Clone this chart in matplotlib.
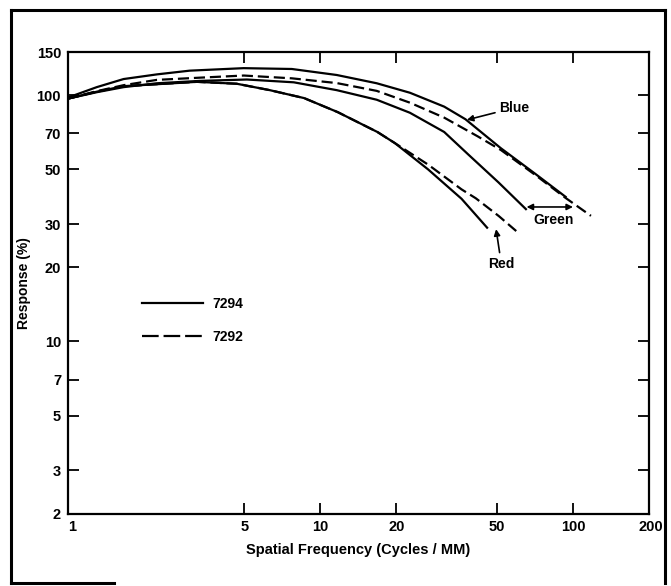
import matplotlib
matplotlib.use("Agg")
import matplotlib.pyplot as plt
from matplotlib.lines import Line2D
from matplotlib.ticker import NullLocator
from matplotlib.transforms import ScaledTranslation

plt.rcParams["font.family"] = ["Liberation Sans", "DejaVu Sans"]
plt.rcParams["font.weight"] = "bold"

# spatial frequency (cycles/mm) and response (%)
blue_7294_freq = [1, 1.3, 1.66, 2.25, 3.03, 4.96, 7.7, 11.6, 16.7, 22.6, 30.9, 37.5, 51.8, 70.9, 93.5]
blue_7294_resp = [98, 108, 116.5, 121.7, 126, 129, 128, 121, 112, 102.5, 90, 80, 61, 48, 38.7]

upper_7292_freq = [1, 1.3, 1.66, 2.25, 3.32, 4.97, 7.7, 11.6, 16.7, 22.6, 30.9, 41.9, 51.8, 70.9, 93.5, 117.8]
upper_7292_resp = [97, 104, 110, 115.6, 118, 120.4, 117.3, 112.2, 104.3, 93.4, 81.2, 68.2, 60, 47.5, 38.3, 32.4]

green_7294_freq = [1, 1.3, 1.66, 2.25, 3.32, 5.11, 7.84, 11.6, 16.7, 22.6, 30.9, 38.5, 50.7, 65.1]
green_7294_resp = [97, 103, 108, 112, 114.5, 116, 113, 105, 96, 85, 71, 57.5, 44.3, 34.5]

red_7294_freq = [1, 1.3, 1.66, 2.25, 3.24, 4.66, 6.3, 8.61, 11.7, 16.8, 19.7, 26.7, 36.2, 45.7]
red_7294_resp = [97, 103.5, 109, 111, 113.5, 111.5, 105, 97.5, 85.5, 71, 64, 50, 38, 29]

red_7292_freq = [1, 1.3, 1.66, 2.25, 3.24, 4.66, 6.3, 8.61, 11.7, 16.8, 19.7, 26.7, 36.2, 41.2, 50.9, 59.6]
red_7292_resp = [97, 103.5, 109, 111, 113.5, 111.5, 105, 97.5, 85.5, 71, 64, 52.3, 41.5, 38.2, 32.3, 28.1]

x_ticks = [1, 5, 10, 20, 50, 100, 200]
y_ticks = [2, 3, 5, 7, 10, 20, 30, 50, 70, 100, 150]

LW = 1.6
DASH = (5, 2.2)

fig = plt.figure(figsize=(6.71, 5.86), dpi=100)
ax = fig.add_axes([0.1013, 0.1237, 0.8659, 0.7875])

ax.plot(blue_7294_freq, blue_7294_resp, color="black", lw=LW)
ax.plot(green_7294_freq, green_7294_resp, color="black", lw=LW)
ax.plot(red_7294_freq, red_7294_resp, color="black", lw=LW)
ax.plot(upper_7292_freq, upper_7292_resp, color="black", lw=LW, dashes=DASH)
ax.plot(red_7292_freq, red_7292_resp, color="black", lw=LW, dashes=DASH)

ax.set_xscale("log")
ax.set_yscale("log")
ax.set_xlim(1, 200)
ax.set_ylim(2, 150)
ax.set_xticks(x_ticks)
ax.set_xticklabels([str(t) for t in x_ticks])
ax.set_yticks(y_ticks)
ax.set_yticklabels([str(t) for t in y_ticks])
ax.xaxis.set_minor_locator(NullLocator())
ax.yaxis.set_minor_locator(NullLocator())
ax.tick_params(direction="in", top=True, right=True, length=8, width=1.3,
               labelsize=10.5, pad=5)
for s in ax.spines.values():
    s.set_linewidth(1.6)

# end labels sit just inside the corners on the scan
xlabels = ax.get_xticklabels()
xlabels[0].set_transform(xlabels[0].get_transform() + ScaledTranslation(3 / 72, 0, fig.dpi_scale_trans))
xlabels[-1].set_transform(xlabels[-1].get_transform() + ScaledTranslation(1.5 / 72, 0, fig.dpi_scale_trans))

ax.set_xlabel("Spatial Frequency (Cycles / MM)", fontsize=10.5, fontweight="bold", labelpad=6)
ax.set_ylabel("Response (%)", fontsize=10, fontweight="bold", labelpad=4)

arrow = dict(arrowstyle="-|>", color="black", lw=1.2, mutation_scale=9, shrinkA=1, shrinkB=0)
ax.annotate("Blue", xy=(38, 79.5), xytext=(51, 89), ha="left", va="center",
            fontsize=10, fontweight="bold", arrowprops=arrow)
ax.annotate("Red", xy=(49.6, 28.6), xytext=(52, 20.7), ha="center", va="center",
            fontsize=10, fontweight="bold", arrowprops=arrow)
ax.annotate("", xy=(65.5, 35.2), xytext=(100, 35.2),
            arrowprops=dict(arrowstyle="<|-|>", color="black", lw=1.2,
                            mutation_scale=9, shrinkA=0, shrinkB=0))
ax.text(84, 31.2, "Green", ha="center", va="center", fontsize=10, fontweight="bold")

handles = [Line2D([], [], color="black", lw=LW, label="7294"),
           Line2D([], [], color="black", lw=LW, dashes=(7.5, 2.2), label="7292")]
ax.legend(handles=handles, loc="upper left", bbox_to_anchor=(0.127, 0.47),
          frameon=False, borderpad=0, borderaxespad=0, handlelength=4.4,
          handletextpad=0.65, labelspacing=1.4,
          prop={"size": 10, "weight": "bold"})

# outer frame of the scanned page
fk = dict(color="black", lw=2.2, transform=fig.transFigure)
fig.add_artist(Line2D([0.0164, 0.991], [0.983, 0.983], **fk))
fig.add_artist(Line2D([0.0164, 0.0164], [0.005, 0.983], **fk))
fig.add_artist(Line2D([0.991, 0.991], [0.005, 0.983], **fk))
fig.add_artist(Line2D([0.0164, 0.17], [0.005, 0.005], **fk))

fig.savefig("out.png", dpi=100)
